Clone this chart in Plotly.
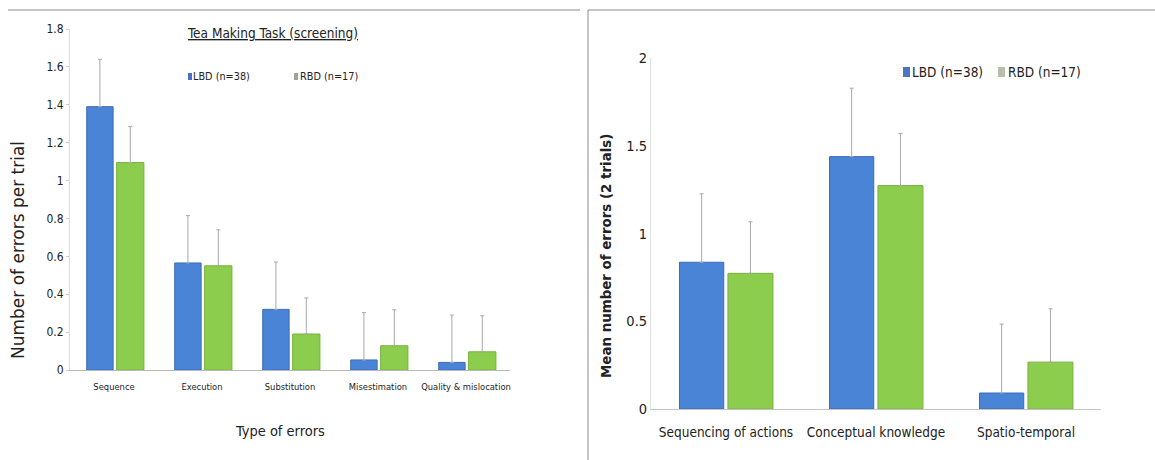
import plotly.graph_objects as go

# ---------------- data ----------------
left_categories = ["Sequence", "Execution", "Substitution", "Misestimation", "Quality & mislocation"]
left_lbd = [1.39, 0.565, 0.32, 0.053, 0.04]
left_rbd = [1.095, 0.55, 0.19, 0.128, 0.096]
left_lbd_err = [0.25, 0.25, 0.25, 0.25, 0.25]
left_rbd_err = [0.19, 0.19, 0.19, 0.19, 0.19]
left_yticks = [0, 0.2, 0.4, 0.6, 0.8, 1.0, 1.2, 1.4, 1.6, 1.8]
left_yticklabels = ["0", "0.2", "0.4", "0.6", "0.8", "1", "1.2", "1.4", "1.6", "1.8"]

right_categories = ["Sequencing of actions", "Conceptual knowledge", "Spatio-temporal"]
right_lbd = [0.836, 1.438, 0.091]
right_rbd = [0.773, 1.273, 0.267]
right_lbd_err = [0.39, 0.39, 0.393]
right_rbd_err = [0.294, 0.297, 0.304]
right_yticks = [0, 0.5, 1.0, 1.5, 2.0]
right_yticklabels = ["0", "0.5", "1", "1.5", "2"]

series_names = ["LBD (n=38)", "RBD (n=17)"]

# ---------------- style ----------------
W, H = 1155, 460
BLUE = "#4a84d6"
BLUE_EDGE = "#3a6cb8"
GREEN = "#8dcd4e"
GREEN_EDGE = "#76b23c"
ERR = "#a8a8a8"
NARROW = "Liberation Sans Narrow, DejaVu Sans Condensed, Arial Narrow, sans-serif"
WIDE = "DejaVu Sans, Verdana, sans-serif"


def px(x):
    return x / W


def py(y):
    return 1 - y / H


fig = go.Figure()


def add_bars(cats, vals, errs, name, color, edge, width, offset, xa, ya):
    fig.add_trace(go.Bar(
        x=cats, y=vals, name=name, width=width, offset=offset,
        marker=dict(color=color, line=dict(color=edge, width=1)),
        error_y=dict(type="data", symmetric=False, array=errs,
                     arrayminus=[0] * len(errs), color=ERR, thickness=1, width=2),
        xaxis=xa, yaxis=ya, showlegend=False,
    ))


add_bars(left_categories, left_lbd, left_lbd_err, series_names[0], BLUE, BLUE_EDGE, 0.30, -0.31, "x", "y")
add_bars(left_categories, left_rbd, left_rbd_err, series_names[1], GREEN, GREEN_EDGE, 0.31, 0.03, "x", "y")
add_bars(right_categories, right_lbd, right_lbd_err, series_names[0], BLUE, BLUE_EDGE, 0.295, -0.31, "x2", "y2")
add_bars(right_categories, right_rbd, right_rbd_err, series_names[1], GREEN, GREEN_EDGE, 0.30, 0.013, "x2", "y2")

fig.update_layout(
    width=W, height=H, margin=dict(l=0, r=0, t=0, b=0, autoexpand=False),
    paper_bgcolor="white", plot_bgcolor="white",
    barmode="overlay",
    font=dict(family=NARROW, color="#222"),
    xaxis=dict(domain=[px(70), px(510)], anchor="y", range=[-0.5, 4.5], automargin=False,
               showline=True, linecolor="#b8b8b8", linewidth=1, ticks="", tickangle=0,
               ticklabelstandoff=8,
               tickfont=dict(size=9.3, family=NARROW, color="#222"), showgrid=False),
    yaxis=dict(domain=[py(370), py(29)], anchor="x", range=[0, 1.8], automargin=False,
               tickvals=left_yticks, ticktext=left_yticklabels,
               showline=True, linecolor="#dcdcdc", linewidth=1,
               ticks="outside", ticklen=3, tickcolor="#cccccc",
               tickfont=dict(size=12, family=NARROW, color="#222"),
               showgrid=False, zeroline=False),
    xaxis2=dict(domain=[px(651), px(1101)], anchor="y2", range=[-0.5, 2.5], automargin=False,
                showline=True, linecolor="#c4c4c4", linewidth=1, ticks="", tickangle=0,
                ticklabelstandoff=11,
                tickfont=dict(size=13.5, family=NARROW, color="#222"), showgrid=False),
    yaxis2=dict(domain=[py(409), py(58)], anchor="x2", range=[0, 2], automargin=False,
                tickvals=right_yticks, ticktext=right_yticklabels,
                showline=True, linecolor="#e2e2e2", linewidth=1, ticks="",
                tickfont=dict(size=14.5, family=NARROW, color="#222"),
                showgrid=False, zeroline=False),
)

# panel frames
fig.add_shape(type="line", xref="paper", yref="paper", x0=px(8), x1=px(580), y0=py(10), y1=py(10),
              line=dict(color="#8a8a8a", width=1))
fig.add_shape(type="line", xref="paper", yref="paper", x0=px(588), x1=1, y0=py(10), y1=py(10),
              line=dict(color="#8a8a8a", width=1))
fig.add_shape(type="line", xref="paper", yref="paper", x0=px(588), x1=px(588), y0=py(10), y1=0,
              line=dict(color="#8a8a8a", width=1))


def note(text, x, y, size, family=NARROW, angle=0, xanchor="center"):
    fig.add_annotation(text=text, xref="paper", yref="paper", x=px(x), y=py(y),
                       xanchor=xanchor, yanchor="middle", textangle=angle, showarrow=False,
                       font=dict(size=size, family=family, color="#222"))


# titles
note("<u>Tea Making Task (screening)</u>", 272, 33, 13.5)
note("Type of errors", 280, 431, 14.5)
note("Number of errors per trial", 18, 250, 17, family=WIDE, angle=-90)
note("<b>Mean number of errors (2 trials)</b>", 606, 256, 13.4, family=WIDE, angle=-90)

# legends (left: small, right: large)
legend_specs = [
    # (square x0, x1, y0, y1, square colour, text x, text y, text, font size)
    (188, 192, 73, 80, "#4a6fc8", 191, 76.5, series_names[0], 10.8),
    (294, 298, 73, 80, "#a0a0a0", 298, 76.5, series_names[1], 10.8),
    (903, 910, 67, 77, "#4a74c4", 910, 72, series_names[0], 13.5),
    (998, 1005, 67, 77, "#b8bfa8", 1006, 72, series_names[1], 13.5),
]
for x0, x1, y0, y1, col, tx, ty, label, fs in legend_specs:
    fig.add_shape(type="rect", xref="paper", yref="paper", x0=px(x0), x1=px(x1), y0=py(y1), y1=py(y0),
                  fillcolor=col, line=dict(color=col, width=0))
    note(label, tx, ty, fs, xanchor="left")

fig.write_html("out.html")
